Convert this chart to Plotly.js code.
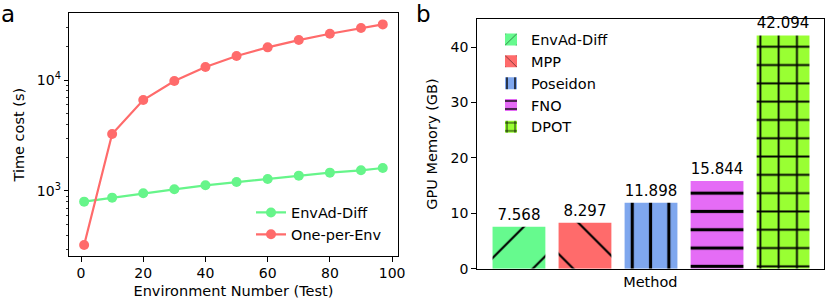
<!DOCTYPE html>
<html>
<head>
<meta charset="utf-8">
<script src="https://cdn.plot.ly/plotly-3.0.1.min.js"></script>
<style>html,body{margin:0;padding:0;background:#fff;}#chart{width:830px;height:301px;}</style>
</head>
<body>
<div id="chart"></div>
<script>
// ---- Panel a data ----
const envNumbers = [1, 10, 20, 30, 40, 50, 60, 70, 80, 90, 97];
const envAdDiffTime = [801, 871, 953, 1035, 1125, 1205, 1282, 1374, 1462, 1535, 1611];
const onePerEnvTime = [326, 3263, 6603, 9795, 13100, 16440, 19680, 22900, 26100, 29380, 31700];
const timeTickVals = [1000, 10000];
const timeTickText = ['10<sup>3</sup>', '10<sup>4</sup>'];
const timeMinorTicks = [300, 400, 500, 600, 700, 800, 900, 2000, 3000, 4000, 5000, 6000, 7000, 8000, 9000, 20000, 30000, 40000];
const xTickVals = [0, 20, 40, 60, 80, 100];

// ---- Panel b data ----
const methods = ['EnvAd-Diff', 'MPP', 'Poseidon', 'FNO', 'DPOT'];
const gpuMemory = [7.568, 8.297, 11.898, 15.844, 42.094];
const gpuTickVals = [0, 10, 20, 30, 40];

const lineColors = ['#66F58A', '#FF6B6B'];
const barColors = ['#66FA8E', '#FF6B6B', '#7FA7EE', '#E56CF6', '#99FF33'];
const hatches = ['/', '\\', '|', '-', '+'];
const hatchSizes = [36, 36, 18.3, 18.3, 18.3];
const hatchSolidity = [0.06, 0.06, 0.17, 0.17, 0.19];

const FONT = 'DejaVu Sans, sans-serif';

const traces = [
  {
    x: envNumbers, y: envAdDiffTime, name: 'EnvAd-Diff', type: 'scatter', mode: 'lines+markers',
    line: {color: lineColors[0], width: 2.2}, marker: {color: lineColors[0], size: 10},
    xaxis: 'x', yaxis: 'y', legend: 'legend', showlegend: true
  },
  {
    x: envNumbers, y: onePerEnvTime, name: 'One-per-Env', type: 'scatter', mode: 'lines+markers',
    line: {color: lineColors[1], width: 2.2}, marker: {color: lineColors[1], size: 10},
    xaxis: 'x', yaxis: 'y', legend: 'legend', showlegend: true
  }
];

methods.forEach(function (m, i) {
  traces.push({
    x: [m], y: [gpuMemory[i]], name: m, type: 'bar', width: 0.8,
    marker: {
      color: barColors[i],
      line: {width: 0},
      pattern: {shape: hatches[i], size: hatchSizes[i], solidity: hatchSolidity[i], fgcolor: '#000', bgcolor: barColors[i], fillmode: 'replace'}
    },
    text: [gpuMemory[i].toFixed(3)], textposition: 'outside', cliponaxis: false,
    textfont: {family: FONT, size: 15, color: '#000'},
    xaxis: 'x2', yaxis: 'y2', legend: 'legend2', showlegend: true
  });
});

const axisCommon = {
  showline: true, mirror: true, linecolor: '#000', linewidth: 1,
  ticks: 'outside', ticklen: 4.5, tickwidth: 1, tickcolor: '#000',
  showgrid: false, zeroline: false,
  tickfont: {family: FONT, size: 14, color: '#000'}
};

const layout = {
  width: 830, height: 301,
  margin: {l: 0, r: 0, t: 0, b: 0},
  paper_bgcolor: '#fff', plot_bgcolor: '#fff',
  font: {family: FONT, size: 14, color: '#000'},
  barmode: 'overlay',
  xaxis: Object.assign({}, axisCommon, {
    domain: [69.2 / 830, 397.7 / 830], anchor: 'y',
    range: [-3.8, 101.8], tickvals: xTickVals,
    title: {text: 'Environment Number (Test)', font: {family: FONT, size: 14.5, color: '#000'}, standoff: 5}
  }),
  yaxis: Object.assign({}, axisCommon, {
    domain: [(301 - 256) / 301, (301 - 13.3) / 301], anchor: 'x',
    type: 'log', range: [2.414, 4.601],
    tickmode: 'array', tickvals: timeTickVals, ticktext: timeTickText,
    minor: {tickmode: 'array', tickvals: timeMinorTicks, ticklen: 2.5, tickwidth: 0.8, tickcolor: '#000', showgrid: false},
    title: {text: 'Time cost (s)', font: {family: FONT, size: 14.5, color: '#000'}, standoff: 8}
  }),
  xaxis2: Object.assign({}, axisCommon, {
    domain: [476.7 / 830, 824 / 830], anchor: 'y2',
    type: 'category', range: [-0.64, 4.62],
    ticks: '', showticklabels: false,
    title: {text: 'Method', font: {family: FONT, size: 14.5, color: '#000'}, standoff: 8}
  }),
  yaxis2: Object.assign({}, axisCommon, {
    domain: [(301 - 268.7) / 301, (301 - 19.3) / 301], anchor: 'x2',
    range: [0, 45], tickvals: gpuTickVals,
    title: {text: 'GPU Memory (GB)', font: {family: FONT, size: 14.5, color: '#000'}, standoff: 9}
  }),
  legend: {
    x: 251 / 830, y: (301 - 196.5) / 301, xanchor: 'left', yanchor: 'top',
    bgcolor: 'rgba(0,0,0,0)', borderwidth: 0,
    font: {family: FONT, size: 14.5, color: '#000'}
  },
  legend2: {
    x: 491 / 830, y: (301 - 23.5) / 301, xanchor: 'left', yanchor: 'top',
    bgcolor: 'rgba(0,0,0,0)', borderwidth: 0,
    font: {family: FONT, size: 14.5, color: '#000'}
  },
  annotations: [
    {text: 'a', x: 0, y: 1, xref: 'paper', yref: 'paper', xanchor: 'left', yanchor: 'top', showarrow: false,
     xshift: -1, yshift: 1, font: {family: FONT, size: 23, color: '#000'}},
    {text: 'b', x: 415 / 830, y: 1, xref: 'paper', yref: 'paper', xanchor: 'left', yanchor: 'top', showarrow: false,
     xshift: -1, yshift: 1, font: {family: FONT, size: 23, color: '#000'}}
  ]
};

Plotly.newPlot('chart', traces, layout, {displayModeBar: false, staticPlot: true});
</script>
</body>
</html>
